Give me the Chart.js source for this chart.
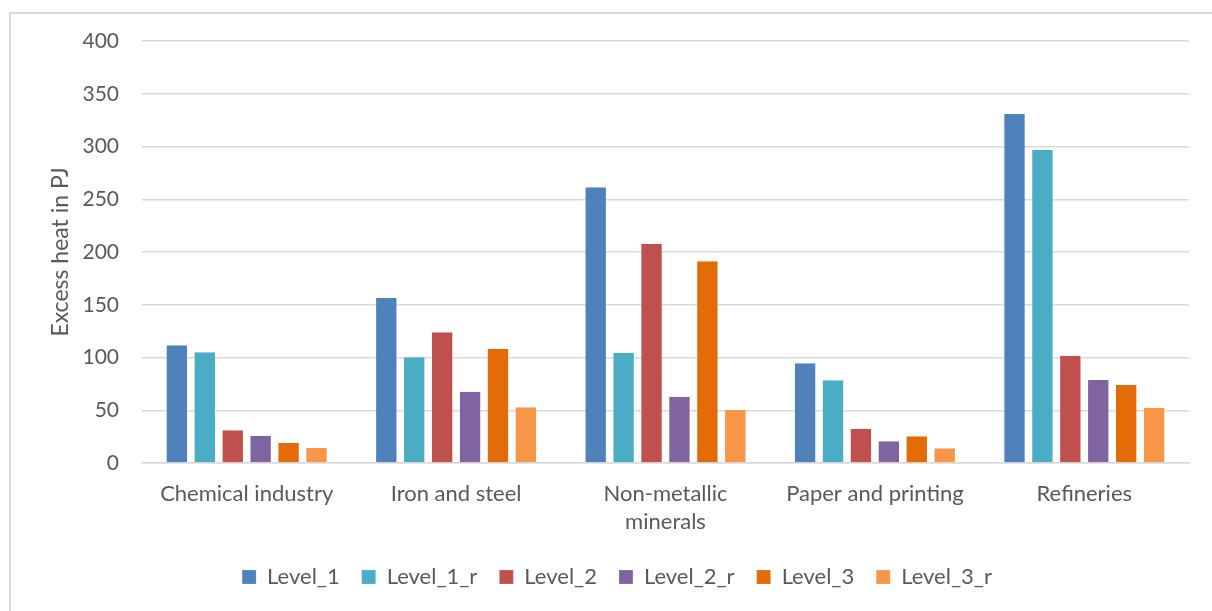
<!DOCTYPE html>
<html>
<head>
<meta charset="utf-8">
<script src="https://cdn.jsdelivr.net/npm/chart.js@4/dist/chart.umd.min.js"></script>
<style>
    html, body { margin: 0; padding: 0; background: #fff; overflow: hidden; }
    .moldura {
        position: absolute; left: 9px; top: 12px;
        width: 1260px; height: 660px;
        border: 2px solid #d9d9d9; box-sizing: border-box;
    }
    #grafico { position: absolute; left: 0; top: 0; }
</style>
</head>
<body>
<div class="moldura"></div>
<canvas id="grafico" width="1212" height="611"></canvas>
<script>
const setores = ['Chemical industry', 'Iron and steel', ['Non-metallic', 'minerals'], 'Paper and printing', 'Refineries'];
const level1 = [111.7, 156.4, 261.3, 94.5, 330.8];
const level1r = [105.0, 100.2, 104.5, 78.4, 296.7];
const level2 = [31.0, 123.9, 207.6, 32.5, 101.7];
const level2r = [25.9, 67.6, 62.8, 20.6, 78.7];
const level3 = [19.0, 108.0, 191.2, 25.3, 73.9];
const level3r = [14.2, 52.8, 50.2, 13.9, 52.4];

const corTexto = '#595959';
const fonte = 'Lato, "Open Sans", sans-serif';

function serie(label, data, cor) {
    return {
        label,
        data,
        backgroundColor: cor,
        borderColor: 'rgba(255,255,255,0.35)',
        borderWidth: { left: 1, right: 1, top: 0, bottom: 0 },
        categoryPercentage: 0.8,
        barPercentage: 0.8
    };
}

const ctx = document.getElementById('grafico').getContext('2d');
new Chart(ctx, {
    type: 'bar',
    data: {
        labels: setores,
        datasets: [
            serie('Level_1', level1, '#4f81bd'),
            serie('Level_1_r', level1r, '#4bacc6'),
            serie('Level_2', level2, '#c0504d'),
            serie('Level_2_r', level2r, '#8064a2'),
            serie('Level_3', level3, '#e36c09'),
            serie('Level_3_r', level3r, '#f79646')
        ]
    },
    options: {
        responsive: false,
        animation: false,
        layout: { padding: { left: 45, right: 23, top: 41, bottom: 13 } },
        plugins: {
            tooltip: { enabled: false },
            legend: {
                position: 'bottom',
                labels: {
                    boxWidth: 14,
                    boxHeight: 14,
                    padding: 22,
                    color: corTexto,
                    font: { family: fonte, size: 22 }
                }
            }
        },
        scales: {
            x: {
                grid: { display: false, drawTicks: false },
                border: { display: true, color: '#d9d9d9', width: 1.5 },
                ticks: {
                    color: corTexto,
                    padding: 16.5,
                    maxRotation: 0,
                    autoSkip: false,
                    font: { family: fonte, size: 22, lineHeight: 1.3 }
                },
                afterFit: scale => { scale.height = 81; }
            },
            y: {
                min: 0,
                max: 400,
                grid: { color: '#d9d9d9', lineWidth: 1.5, drawTicks: false },
                border: { display: false },
                ticks: {
                    stepSize: 50,
                    color: corTexto,
                    padding: 23,
                    font: { family: fonte, size: 21 }
                },
                title: {
                    display: true,
                    text: 'Excess heat in PJ',
                    color: corTexto,
                    padding: { top: 2, bottom: 4 },
                    font: { family: fonte, size: 23 }
                },
                afterFit: scale => { scale.width = 97; }
            }
        }
    }
});
</script>
</body>
</html>
